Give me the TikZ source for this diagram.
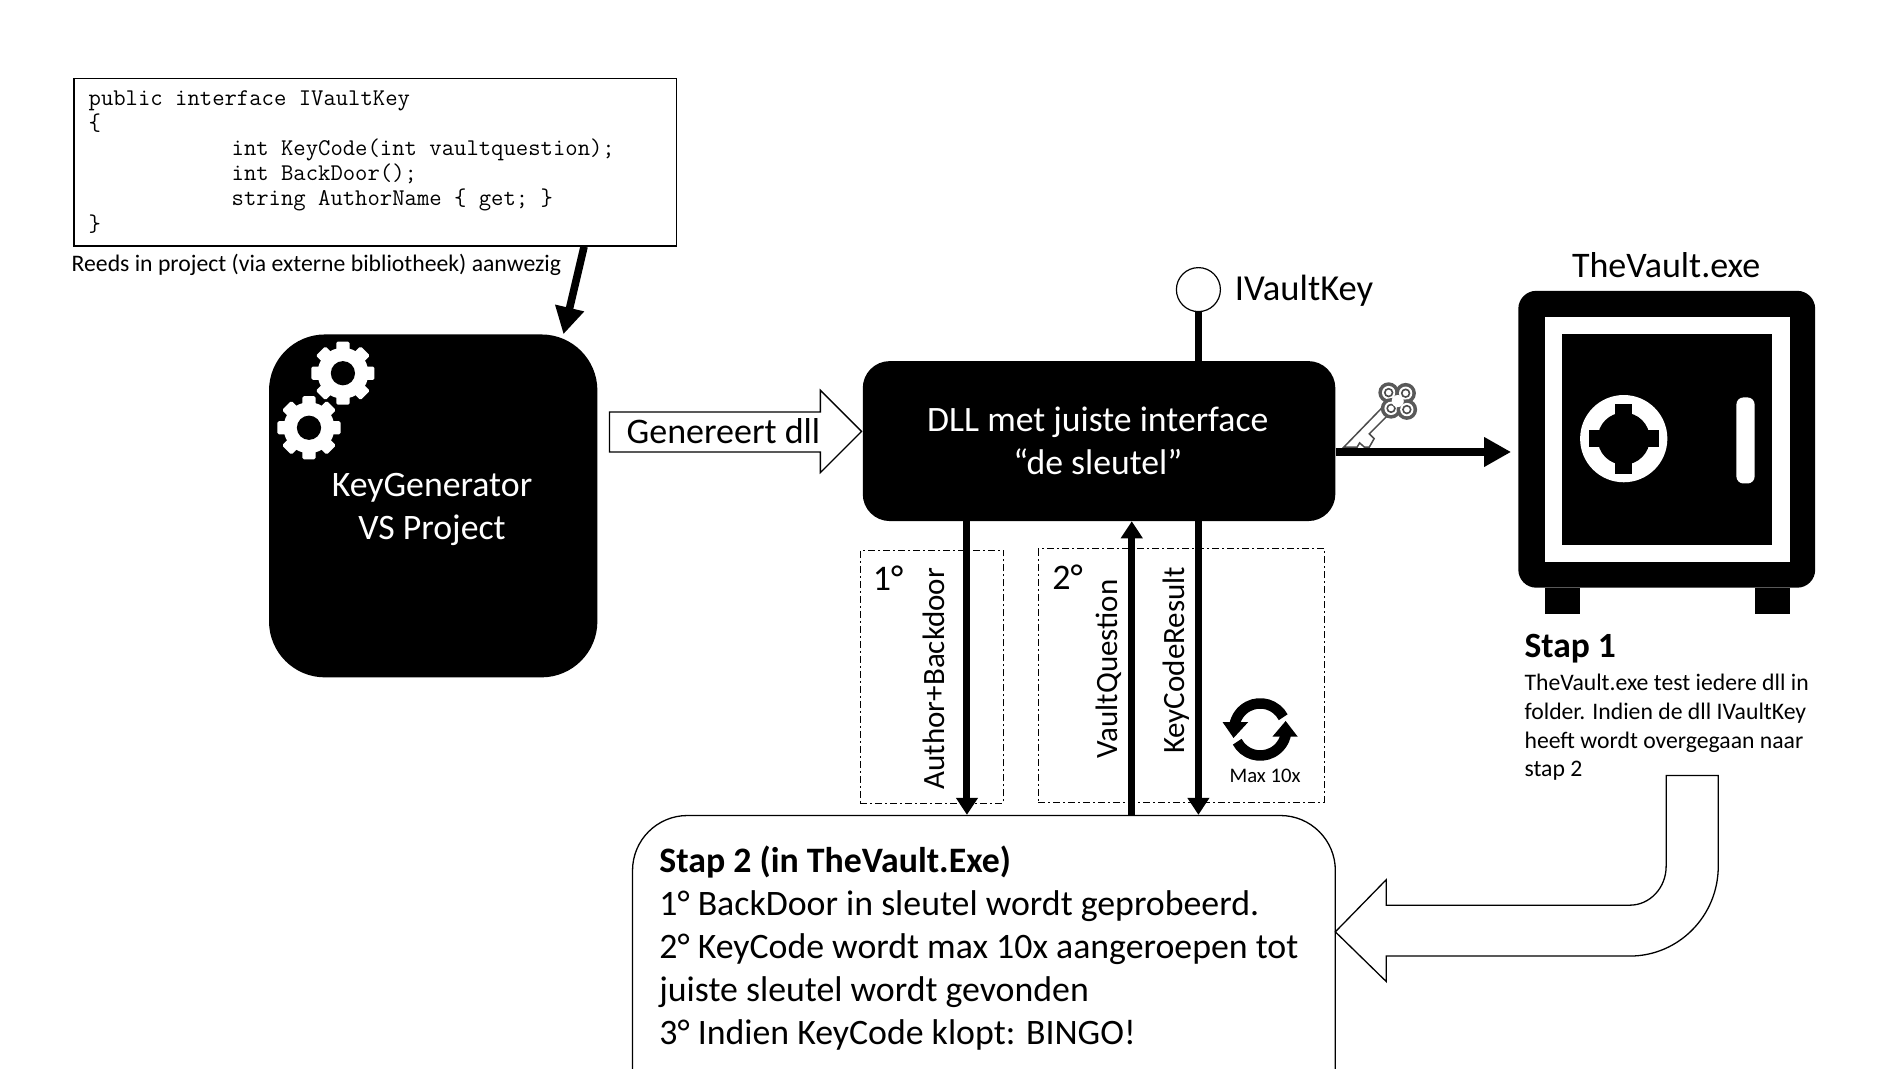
\documentclass[tikz,border=0pt]{standalone}
\usepackage{fontspec}
\setmainfont{Carlito}
\usetikzlibrary{arrows.meta,fit,calc}
\tikzset{
  blackbox/.style={fit={#1},inner sep=0pt,fill=black},
  thinline/.style={draw=black,line width=1.3pt,line join=miter},
  bigtext/.style={font=\fontsize{35.8}{43}\selectfont,align=center,inner sep=0pt},
  labeltext/.style={font=\fontsize{36}{43}\selectfont,inner sep=0pt},
  sidetext/.style={font=\fontsize{31}{36}\selectfont,inner sep=0pt,rotate=90},
  smalltext/.style={font=\fontsize{23.7}{28.6}\selectfont,inner sep=0pt,align=left},
  flow/.style={line width=7pt,-{Triangle[length=17pt,width=21pt]}},
  bigflow/.style={line width=7.6pt,-{Triangle[length=27pt,width=28pt]}},
  dashbox/.style={fit={#1},inner sep=0pt,draw=black,line width=1.1pt,dash pattern=on 7pt off 3pt on 2pt off 3pt},
}
\newcommand{\gearicon}[1]{%
  \begin{scope}[shift={#1}]
    \foreach \a in {0,45,90,135}
      \fill[white,rotate=\a,rounded corners=1.5pt] (-5.5,-26) rectangle (5.5,26);
    \fill[white] (0,0) circle (21);
    \fill[black] (0,0) circle (10);
  \end{scope}}
\newcommand{\keylobe}[1]{%
  \fill[black!65] #1 circle (8.5);
  \fill[white] #1 circle (5.5);
  \draw[black!70,line width=1.6pt] #1 circle (3.2);}
\begin{document}
\begin{tikzpicture}[x=1.2117pt,y=-1.2117pt]
\useasboundingbox (0,0) rectangle (1568,882.2);
\clip (0,0) rectangle (1568,882.2);
\fill[white] (0,0) rectangle (1568,882.2);

% anchors for connector positions
\coordinate (xa) at (482,0); \coordinate (xb) at (465,0);
\coordinate (c1) at (798,0); \coordinate (c2) at (934,0); \coordinate (c3) at (989,0);
\coordinate (yk) at (0,373);

% code box
\node[fit={(61,65)(558,203)},inner sep=0pt,thinline] (code) {};
\node[anchor=north west,inner sep=0pt,font=\ttfamily\fontsize{24}{25.1}\selectfont,align=left] (codetext) at (73,74.7)
 {public interface IVaultKey\\ \{\\ \hspace*{143pt}int KeyCode(int vaultquestion);\\ \hspace*{143pt}int BackDoor();\\ \hspace*{143pt}string AuthorName \{ get; \}\\ \}};
\node[anchor=west,inner sep=0pt,font=\fontsize{23.7}{27}\selectfont] (reeds) at (59,218.5) {Reeds in project (via externe bibliotheek) aanwezig};

% key generator
\node[blackbox={(222,276)(493,559)},rounded corners=56pt] (kg) {};
\gearicon{(283,308)}
\gearicon{(255,353)}
\node[bigtext,text=white] (kgtext) at (356.5,420.5) {KeyGenerator\\VS Project};
\draw[bigflow] (code.south -| xa) -- (kg.north -| xb);

% generates arrow
\draw[thinline,fill=white] (503,340) -- (677,340) -- (677,322) -- (711,356) -- (677,390) -- (677,373) -- (503,373) -- cycle;
\node[labeltext] (gen) at (597,356) {Genereert dll};

% dll
\node[blackbox={(712,298)(1102,430)},rounded corners=27pt] (dll) {};
\node[bigtext,text=white,font=\fontsize{35.7}{43}\selectfont] (dlltext) at (906,363.5) {DLL met juiste interface\\“de sleutel”};

% lollipop
\node[circle,draw=black,line width=1.2pt,minimum size=44pt,inner sep=0pt,fill=white] (lolli) at (989,239) {};
\draw[line width=7pt] (lolli.south) -- (dll.north -| lolli);
\node[anchor=west,labeltext,font=\fontsize{36.6}{43}\selectfont] (ivk) at (1019,240) {IVaultKey};

% key icon
\draw[draw=black!70,line width=1.5pt,fill=white] (1109,369) -- (1141,336) -- (1147,341) -- (1130,358) -- (1134,362) -- (1130,369) -- (1126,369) -- (1122,365.5) -- (1120,369) -- cycle;
\keylobe{(1146,324)}
\keylobe{(1160,324.5)}
\keylobe{(1148,337)}
\keylobe{(1161,338)}
\fill[white] (1153.5,331) circle (5);

% vault
\node[blackbox={(1253,240)(1498,485)},rounded corners=18pt] (safe) {};
\fill[white] (1275,262) rectangle (1477,464);
\fill[black] (1289,276) rectangle (1462,450);
\fill[white] (1340,362) circle (36);
\fill[black] (1340,362) circle (21.5);
\fill[black] (1333,333) rectangle (1347,391);
\fill[black] (1311,355) rectangle (1369,369);
\fill[white,rounded corners=7pt] (1433,328) rectangle (1448,399);
\fill[black] (1275,485) rectangle (1304,507);
\fill[black] (1448,485) rectangle (1477,507);
\node[labeltext] (vaultname) at (1375,219) {TheVault.exe};
\draw[bigflow,shorten >=7pt] (dll.east |- yk) -- (safe.west |- yk);

% step 1
\node[anchor=west,inner sep=0pt,font=\bfseries\fontsize{35.5}{40}\selectfont] (s1h) at (1258,535.5) {Stap 1};
\node[anchor=north west,smalltext] (s1t) at (1258,556.5) {TheVault.exe test iedere dll in\\folder. Indien de dll IVaultKey\\heeft wordt overgegaan naar\\stap 2};

% curved arrow
\draw[thinline,fill=white] (1375,640) -- (1375,715) arc[start angle=0,end angle=90,x radius=30,y radius=32] -- (1144,747) -- (1144,726) -- (1102,769) -- (1144,810) -- (1144,789) -- (1345,789) arc[start angle=90,end angle=0,x radius=73,y radius=74] -- (1418,640) -- cycle;

% step 2
\node[fit={(522,673)(1102,930)},inner sep=0pt,thinline,rounded corners=55pt] (step2) {};
\node[anchor=north west,bigtext,align=left] (s2t) at (544,698) {\textbf{Stap 2 (in TheVault.Exe)}\\1° BackDoor in sleutel wordt geprobeerd.\\2° KeyCode wordt max 10x aangeroepen tot\\juiste sleutel wordt gevonden\\3° Indien KeyCode klopt: BINGO!};

% dashed groups
\node[dashbox={(710,454)(828,663)}] (g1) {};
\node[dashbox={(857,453)(1093,662)}] (g2) {};
\node[labeltext] (g1n) at (733,477) {1°};
\node[labeltext] (g2n) at (881,476) {2°};

% flows
\draw[flow] (dll.south -| c1) -- (step2.north -| c1);
\draw[flow] (step2.north -| c2) -- (dll.south -| c2);
\draw[flow] (dll.south -| c3) -- (step2.north -| c3);
\node[sidetext] (l1) at (771,560) {Author+Backdoor};
\node[sidetext] (l2) at (915,552) {VaultQuestion};
\node[sidetext] (l3) at (971,545) {KeyCodeResult};

% loop icon
\begin{scope}[shift={(1040,602)}]
  \draw[line width=10.5pt] (-28:21.5) arc[start angle=-28,end angle=-170,radius=21.5];
  \draw[line width=10.5pt] (152:21.5) arc[start angle=152,end angle=10,radius=21.5];
  \fill (-31,-6) -- (-10,-6) -- (-22,7) -- cycle;
  \fill (31,6) -- (10,6) -- (21,-7) -- cycle;
\end{scope}
\node[inner sep=0pt,font=\fontsize{20.7}{24}\selectfont] (maxt) at (1044,640) {Max 10x};
\end{tikzpicture}
\end{document}
